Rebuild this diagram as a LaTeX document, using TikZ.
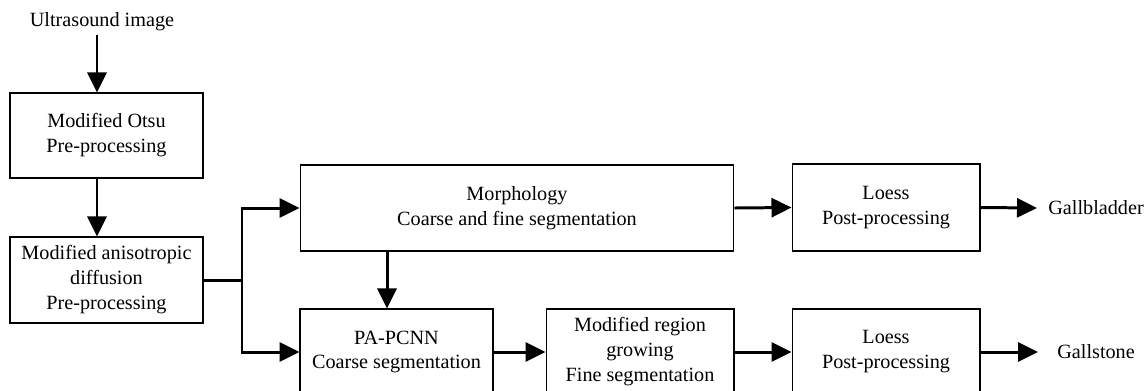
\documentclass[tikz,border=0pt]{standalone}
\usepackage{fontspec}
\setmainfont{Liberation Serif}
\usetikzlibrary{arrows.meta,calc}
\begin{document}
\begin{tikzpicture}[x=0.02cm,y=-0.02cm,
 box/.style={draw,line width=0.6pt,align=center,inner sep=0pt,font=\fontsize{11.5}{14.2}\selectfont},
 lbl/.style={font=\fontsize{11.5}{14.2}\selectfont,inner sep=0pt},
 arr/.style={line width=1.7pt,-{Triangle[length=0.40cm,width=0.38cm]}},
 ln/.style={line width=1.7pt}]
\useasboundingbox (0,0) rectangle (1148,390);
\node[lbl] (us) at (102,22) {Ultrasound image};
\node[box,minimum width=3.86cm,minimum height=1.70cm] (otsu) at (106.5,135.5) {Modified Otsu\\Pre-processing};
\node[box,minimum width=3.86cm,minimum height=1.72cm] (aniso) at (106.5,280) {Modified anisotropic\\diffusion\\Pre-processing};
\node[box,minimum width=8.68cm,minimum height=1.72cm] (morph) at (517,208) {Morphology\\Coarse and fine segmentation};
\node[box,minimum width=3.76cm,minimum height=1.74cm] (loessT) at (886,207.5) {Loess\\Post-processing};
\node[box,minimum width=3.86cm,minimum height=1.72cm] (pa) at (396.5,352) {PA-PCNN\\Coarse segmentation};
\node[box,minimum width=3.76cm,minimum height=1.72cm] (region) at (640,352) {Modified region\\growing\\Fine segmentation};
\node[box,minimum width=3.76cm,minimum height=1.72cm] (loessB) at (886,352) {Loess\\Post-processing};
\node[lbl,anchor=west] (gb) at (1048,208) {Gallbladder};
\node[lbl,anchor=west] (gs) at (1057,352) {Gallstone};
\coordinate (c1) at (97,0);
\coordinate (c2) at (387,0);
\coordinate (j) at (242,280);
\coordinate (e1) at (1037,208);
\coordinate (e2) at (1038,352);
\draw[arr] (us.south -| c1) ++(0,3) -- (otsu.north -| c1);
\draw[arr] (otsu.south -| c1) -- (aniso.north -| c1);
\draw[ln] (aniso.east) -- (j);
\draw[arr] (j) |- (morph.west);
\draw[arr] (j) |- (pa.west);
\draw[arr] (morph.south -| c2) -- (pa.north -| c2);
\draw[arr] (pa.east) -- (region.west);
\draw[arr] (region.east) -- (loessB.west);
\draw[arr] (morph.east) -- (loessT.west);
\draw[arr] (loessT.east) -- (e1);
\draw[arr] (loessB.east) -- (e2);
\end{tikzpicture}
\end{document}
